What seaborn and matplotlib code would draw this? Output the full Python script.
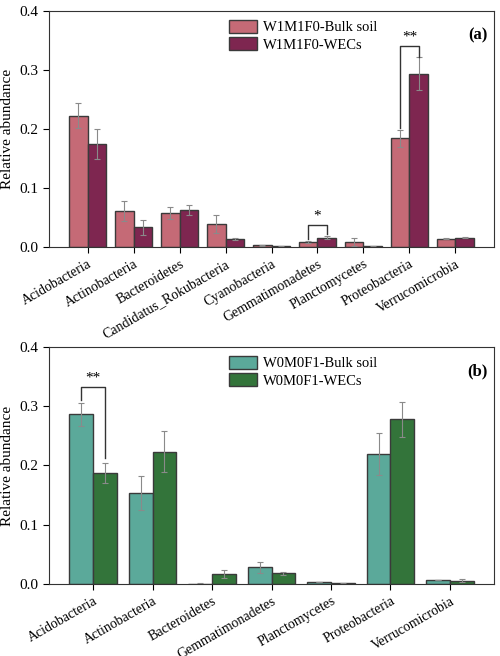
import matplotlib
matplotlib.use('Agg')
import matplotlib.pyplot as plt
import pandas as pd
import seaborn as sns

phyla_a = ["Acidobacteria", "Actinobacteria", "Bacteroidetes", "Candidatus_Rokubacteria",
           "Cyanobacteria", "Gemmatimonadetes", "Planctomycetes", "Proteobacteria",
           "Verrucomicrobia"]
bulk_a = [0.2225, 0.0614, 0.0575, 0.039, 0.003, 0.008, 0.008, 0.184, 0.014]
bulk_a_err = [0.021, 0.017, 0.010, 0.015, 0.0005, 0.002, 0.007, 0.015, 0.0007]
wecs_a = [0.1746, 0.0332, 0.063, 0.0135, 0.001, 0.016, 0.001, 0.2935, 0.016]
wecs_a_err = [0.025, 0.013, 0.008, 0.0025, 0.0003, 0.002, 0.0003, 0.028, 0.001]

phyla_b = ["Acidobacteria", "Actinobacteria", "Bacteroidetes", "Gemmatimonadetes",
           "Planctomycetes", "Proteobacteria", "Verrucomicrobia"]
bulk_b = [0.2864, 0.1536, 0.0005, 0.028, 0.003, 0.2194, 0.0068]
bulk_b_err = [0.019, 0.028, 0.0008, 0.009, 0.0005, 0.036, 0.0005]
wecs_b = [0.1873, 0.2233, 0.0169, 0.018, 0.001, 0.278, 0.0056]
wecs_b_err = [0.017, 0.035, 0.0067, 0.003, 0.0003, 0.030, 0.0030]

plt.rcParams['font.family'] = ['Liberation Serif', 'DejaVu Serif']
plt.rcParams['font.size'] = 10


def panel(ax, phyla, bulk, bulk_err, wecs, wecs_err, names, colors, tag):
    df = pd.DataFrame({
        "phylum": phyla * 2,
        "value": bulk + wecs,
        "group": [names[0]] * len(phyla) + [names[1]] * len(phyla),
    })
    sns.barplot(data=df, x="phylum", y="value", hue="group", palette=colors,
                order=phyla, hue_order=names, width=0.8, errorbar=None,
                edgecolor="#3a3a3a", linewidth=1.0, saturation=1, ax=ax)
    for cont, err, vals in zip(ax.containers, [bulk_err, wecs_err], [bulk, wecs]):
        xs = [p.get_x() + p.get_width() / 2 for p in cont.patches]
        ax.errorbar(xs, vals, yerr=err, fmt="none", ecolor="#8a8a8a",
                    elinewidth=0.8, capsize=2, capthick=0.8)
    ax.set_ylim(0, 0.4)
    ax.set_yticks([0, 0.1, 0.2, 0.3, 0.4])
    ax.set_yticklabels(["0.0", "0.1", "0.2", "0.3", "0.4"], fontsize=11)
    ax.set_xlabel("")
    ax.set_ylabel("Relative abundance", fontsize=11)
    ax.tick_params(axis="x", labelsize=10, length=4)
    ax.tick_params(axis="y", length=4)
    plt.setp(ax.get_xticklabels(), rotation=30, ha="right", rotation_mode="anchor")
    for s in ax.spines.values():
        s.set_visible(True)
        s.set_linewidth(0.8)
        s.set_color("#333333")
    ax.legend(loc="upper left", bbox_to_anchor=(0.385, 1.0), frameon=False,
              fontsize=10.5, handlelength=1.9, handleheight=1.0,
              labelspacing=0.2, handletextpad=0.4, borderaxespad=0.2)
    ax.text(0.985, 0.93, tag, transform=ax.transAxes, ha="right", va="top",
            fontsize=12, fontweight="bold")
    return ax.containers


def bracket(ax, conts, i, y_left, y_right, y_top, label):
    p1 = conts[0].patches[i]
    p2 = conts[1].patches[i]
    x1 = p1.get_x() + p1.get_width() / 2
    x2 = p2.get_x() + p2.get_width() / 2
    ax.plot([x1, x1, x2, x2], [y_left, y_top, y_top, y_right], color="#333333", lw=1.0)
    ax.text((x1 + x2) / 2, y_top + 0.004, label, ha="center", va="bottom", fontsize=11)


fig = plt.figure(figsize=(5, 6.56), dpi=100)
ax1 = fig.add_axes([0.098, 0.6235, 0.89, 0.3597])
ax2 = fig.add_axes([0.098, 0.1098, 0.89, 0.3612])

c1 = panel(ax1, phyla_a, bulk_a, bulk_a_err, wecs_a, wecs_a_err,
           ["W1M1F0-Bulk soil", "W1M1F0-WECs"], ["#C56A76", "#7E2650"], "(a)")
bracket(ax1, c1, 7, 0.201, 0.322, 0.341, "**")
bracket(ax1, c1, 5, 0.014, 0.0225, 0.0377, "*")

c2 = panel(ax2, phyla_b, bulk_b, bulk_b_err, wecs_b, wecs_b_err,
           ["W0M0F1-Bulk soil", "W0M0F1-WECs"], ["#5BA99A", "#33743A"], "(b)")
bracket(ax2, c2, 0, 0.311, 0.2127, 0.3325, "**")

fig.savefig("out.png", dpi=100)
